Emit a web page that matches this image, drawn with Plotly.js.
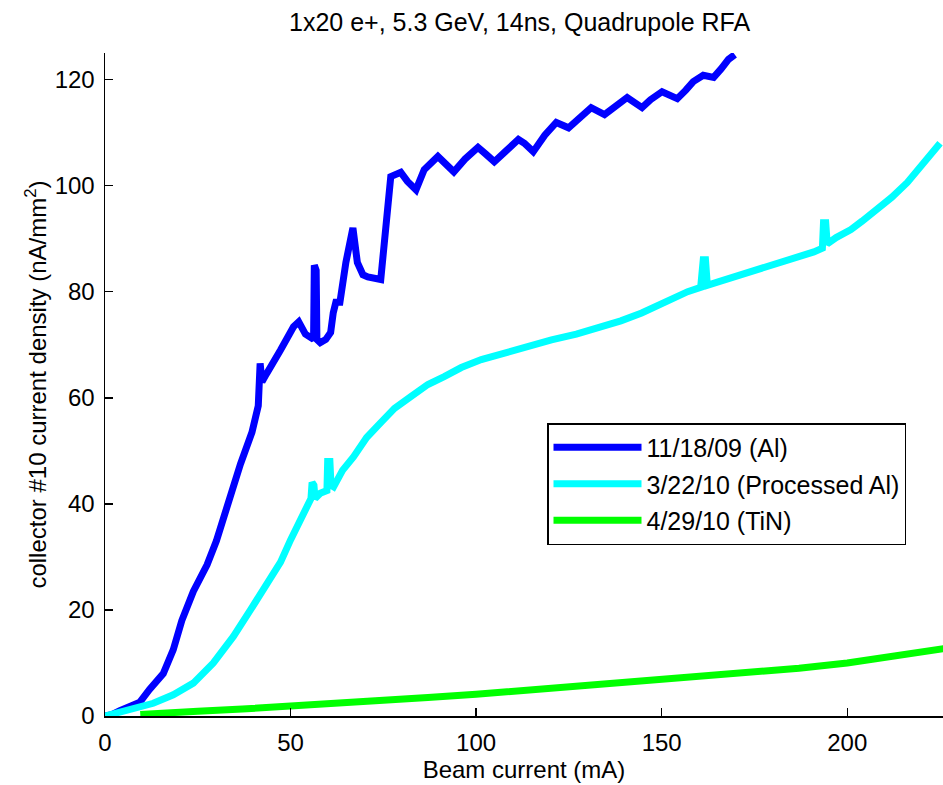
<!DOCTYPE html>
<html>
<head>
<meta charset="utf-8">
<script src="https://cdn.plot.ly/plotly-3.0.1.min.js"></script>
<style>
html,body{margin:0;padding:0;background:#fff;}
#chart{width:943px;height:785px;}
</style>
</head>
<body>
<div id="chart"></div>
<script>
// Series 1: 11/18/09 (Al)
const alX = [0,2,4,7,9.4,12,15.7,18.4,20.7,23.8,27.5,30,33.3,36.5,39.6,41.3,41.8,42.3,43.5,45,47.3,50.8,52.2,54,55.4,56.2,56.4,56.9,57.1,58,59.5,60.8,61.5,62.2,63.3,64.9,66.8,68,69.5,70.8,74.3,75.1,76.2,77,79.7,81.5,83.8,86,89.7,92,94,97,100.5,102.5,104.9,108,111.4,113,115.4,118.5,121.6,124.9,128,131,134.6,137.5,140.7,144.7,147,150.1,154.2,156.5,158.5,161.2,164,166,168,169.7];
const alY = [0,0.3,1,1.8,2.6,5,8,12.5,18,23.5,28.5,33,40.5,47.5,53.5,58.5,66.5,63,64.5,66.5,69,73.4,74.3,72,71.2,71,85,84,71,70.4,71,72.3,76,78,78,85.5,92,85.5,83.2,82.8,82.3,87.4,94,101.7,102.5,100.8,99.2,103,105.5,104,102.6,105,107.2,106,104.5,106.5,108.7,108,106.4,109.5,111.9,110.9,112.8,114.7,113.4,115,116.6,114.7,116.2,117.7,116.4,118,119.6,120.8,120.4,122,123.8,124.7];

// Series 2: 3/22/10 (Processed Al)
const procX = [0,3,6.8,13,18.4,23.8,29.2,34.6,39.2,43.8,47.3,50,54.6,55.5,55.8,56.3,56.6,58,59.8,60,60.6,60.9,61.6,64,67,70.5,74.3,78,82.4,87,91.4,96,101.4,106.8,113,120.3,127,133.8,139,144.6,149,153.5,157,160.5,161.2,161.8,162.3,165,169.7,174,178.9,183,187.8,191,193.3,193.6,194.2,194.6,197,201,204,208,212,216.2,219,222.4,225];
const procY = [0,0.6,1.5,2.4,4,6.2,10,15,20,25,29,33.2,39.4,41,44,43.5,41,42,42.5,48,48,43.5,43.2,46.3,48.9,52.5,55.3,58,60.2,62.5,64,65.7,67.2,68.3,69.4,70.9,72,73.4,74.5,76,77.5,79,80,80.8,86,86,81.2,81.8,82.8,83.8,84.7,85.6,86.6,87.5,88.2,93,93,89,90.2,91.7,93.3,95.5,97.8,100.6,102.8,105.5,108];

// Series 3: 4/29/10 (TiN)
const tinX = [9.5,15,25,37,50,62,75,87,100,112,125,137,150,162,175,187,200,212,226];
const tinY = [0.3,0.4,0.9,1.3,1.8,2.3,2.9,3.5,4.1,4.8,5.4,6,6.7,7.4,8.2,9,10,11.1,12.7];

const seriesNames = ['11/18/09 (Al)','3/22/10 (Processed Al)','4/29/10 (TiN)'];
const seriesColors = ['#0000ff','#00ffff','#00ff00'];
const xTicks = [0,50,100,150,200];
const yTicks = [0,20,40,60,80,100,120];

const FONT = 'Liberation Sans, Arial, sans-serif';
const FS = 24;

const traces = [
  {x: alX, y: alY},
  {x: procX, y: procY},
  {x: tinX, y: tinY}
].map((d,i)=>({
  x: d.x, y: d.y, type:'scatter', mode:'lines', name: seriesNames[i],
  legendgroup: 'g'+i,
  line:{color: seriesColors[i], width:7}
}));

const layout = {
  width:943, height:785,
  paper_bgcolor:'#fff', plot_bgcolor:'#fff',
  margin:{l:105, r:0, t:53, b:69},
  font:{family:FONT, size:FS, color:'#000'},
  title:{text:'1x20 e+, 5.3 GeV, 14ns, Quadrupole RFA', x:0.551, xref:'container', xanchor:'center',
         y:1-22/785, yref:'container', yanchor:'middle', font:{family:FONT, size:25, color:'#000'}},
  xaxis:{range:[0,225.8], tickvals:xTicks, ticktext:xTicks.map(String), ticks:'inside', ticklen:8, tickwidth:1.5, tickcolor:'#000',
         showline:true, linecolor:'#000', linewidth:1.5, showgrid:false, zeroline:false, mirror:false,
         tickfont:{family:FONT, size:FS, color:'#000'}, ticklabelstandoff:5,
         title:{text:'Beam current (mA)', font:{family:FONT, size:FS, color:'#000'}, standoff:0}},
  yaxis:{range:[0,125], tickvals:yTicks, ticktext:yTicks.map(String), ticks:'inside', ticklen:8, tickwidth:1.5, tickcolor:'#000',
         showline:true, linecolor:'#000', linewidth:1.5, showgrid:false, zeroline:false, mirror:false,
         tickfont:{family:FONT, size:FS, color:'#000'}, ticklabelstandoff:4,
         title:{text:'collector #10 current density (nA/mm<sup>2</sup>)', font:{family:FONT, size:FS, color:'#000'}, standoff:1}},
  legend:{x:(547-105)/838, y:(716-423)/663, xanchor:'left', yanchor:'top', bgcolor:'#fff', bordercolor:'#000', borderwidth:1.5,
          font:{family:FONT, size:25, color:'#000'}, tracegroupgap:1, itemwidth:88},
  showlegend:true
};

Plotly.newPlot('chart', traces, layout, {displayModeBar:false, staticPlot:true});
</script>
</body>
</html>
